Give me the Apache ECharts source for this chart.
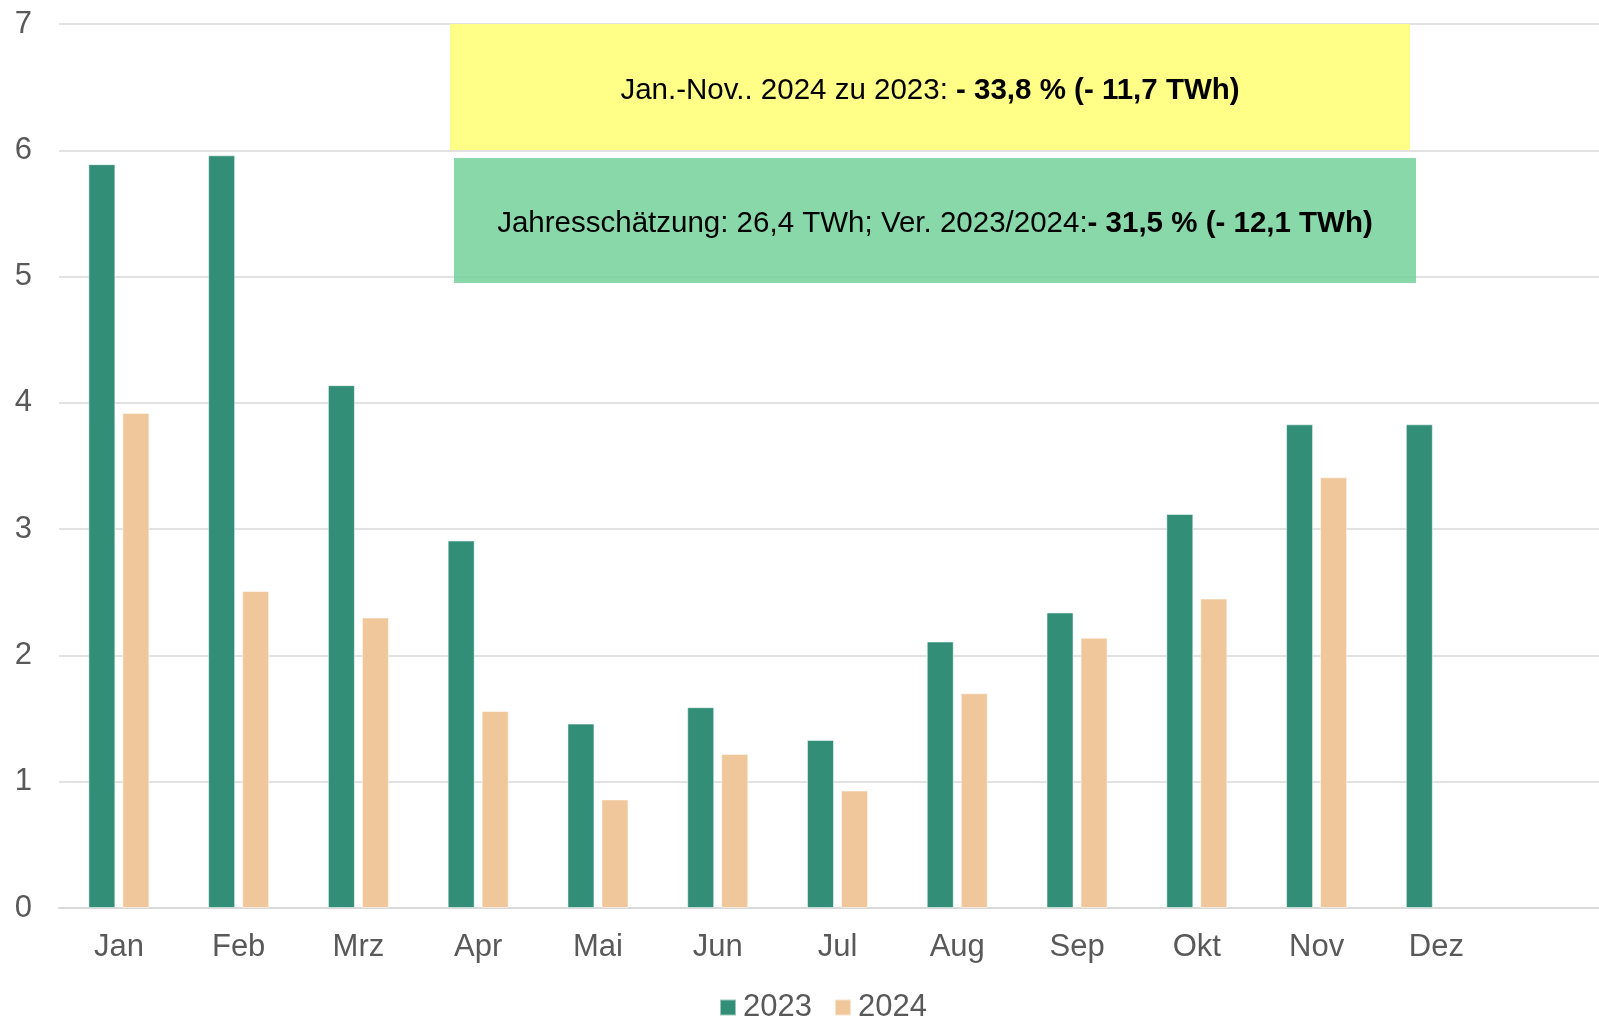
<!DOCTYPE html>
<html>
<head>
<meta charset="utf-8">
<script src="https://cdn.jsdelivr.net/npm/echarts@6/dist/echarts.min.js"></script>
<style>
  html, body { margin: 0; padding: 0; background: #fff; overflow: hidden; }
  /* Plotfläche läuft über den rechten Bildrand hinaus */
  #main { width: 1640px; height: 1018px; }
</style>
</head>
<body>
<div id="main"></div>
<script>
// Monate (letzte leere Kategorie: Plotfläche läuft rechts weiter)
var months = ['Jan', 'Feb', 'Mrz', 'Apr', 'Mai', 'Jun', 'Jul', 'Aug', 'Sep', 'Okt', 'Nov', 'Dez'];
var values2023 = [5.89, 5.96, 4.14, 2.91, 1.46, 1.59, 1.33, 2.11, 2.34, 3.12, 3.83, 3.83];
var values2024 = [3.92, 2.51, 2.30, 1.56, 0.86, 1.22, 0.93, 1.70, 2.14, 2.45, 3.41, null];
var yTicks = [0, 1, 2, 3, 4, 5, 6, 7];

var textFont = 'Liberation Sans, Arial, sans-serif';
var labelColor = '#595959';
var gridColor = '#d9d9d9';

var chart = echarts.init(document.getElementById('main'));

// Textkasten-Stil
var richStyle = {
    n: { fontFamily: textFont, fontSize: 29.5, color: '#000' },
    b: { fontFamily: textFont, fontSize: 29.5, fontWeight: 'bold', color: '#000' }
};

var option = {
    backgroundColor: '#ffffff',
    animation: false,
    color: ['#338e78', '#f0c79a'],
    grid: {
        left: 59,
        right: 24,
        top: 24,
        bottom: 110,
        containLabel: false
    },
    legend: {
        top: 987,
        left: 714,
        itemWidth: 16,
        itemHeight: 16,
        itemGap: 22,
        icon: 'rect',
        textStyle: {
            fontFamily: textFont,
            fontSize: 31,
            color: labelColor,
            padding: [0, 0, 0, 2]
        },
        data: ['2023', '2024']
    },
    xAxis: {
        type: 'category',
        data: months.concat(['']),
        axisTick: { show: false },
        axisLine: { lineStyle: { color: gridColor, width: 2 } },
        axisLabel: {
            fontFamily: textFont,
            fontSize: 31,
            color: labelColor,
            margin: 24
        }
    },
    yAxis: {
        type: 'value',
        min: yTicks[0],
        max: yTicks[yTicks.length - 1],
        interval: 1,
        axisLine: { show: false },
        axisTick: { show: false },
        splitLine: { lineStyle: { color: gridColor, width: 1.5 } },
        axisLabel: {
            fontFamily: textFont,
            fontSize: 31,
            color: labelColor,
            margin: 27
        }
    },
    series: [
        {
            name: '2023',
            type: 'bar',
            barWidth: 27,
            barGap: '26%',
            itemStyle: { borderColor: 'rgba(255,255,255,0.5)', borderWidth: 1 },
            data: values2023
        },
        {
            name: '2024',
            type: 'bar',
            barWidth: 27,
            barGap: '26%',
            itemStyle: { borderColor: 'rgba(255,255,255,0.5)', borderWidth: 1 },
            data: values2024
        }
    ],
    graphic: [
        {
            type: 'rect',
            left: 450,
            top: 24,
            shape: { width: 960, height: 126 },
            style: { fill: '#ffff88' },
            z: 10
        },
        {
            type: 'text',
            x: 930,
            y: 91,
            style: {
                text: '{n|Jan.-Nov.. 2024 zu 2023: }{b|- 33,8 % (- 11,7 TWh)}',
                align: 'center',
                verticalAlign: 'middle',
                rich: richStyle
            },
            z: 11
        },
        {
            type: 'rect',
            left: 454,
            top: 158,
            shape: { width: 962, height: 125 },
            style: { fill: 'rgba(110,208,150,0.82)' },
            z: 10
        },
        {
            type: 'text',
            x: 935,
            y: 224,
            style: {
                text: '{n|Jahresschätzung: 26,4 TWh; Ver. 2023/2024:}{b|- 31,5 % (- 12,1 TWh)}',
                align: 'center',
                verticalAlign: 'middle',
                rich: richStyle
            },
            z: 11
        }
    ]
};

if (option && typeof option === 'object') {
    chart.setOption(option, true);
}
</script>
</body>
</html>
